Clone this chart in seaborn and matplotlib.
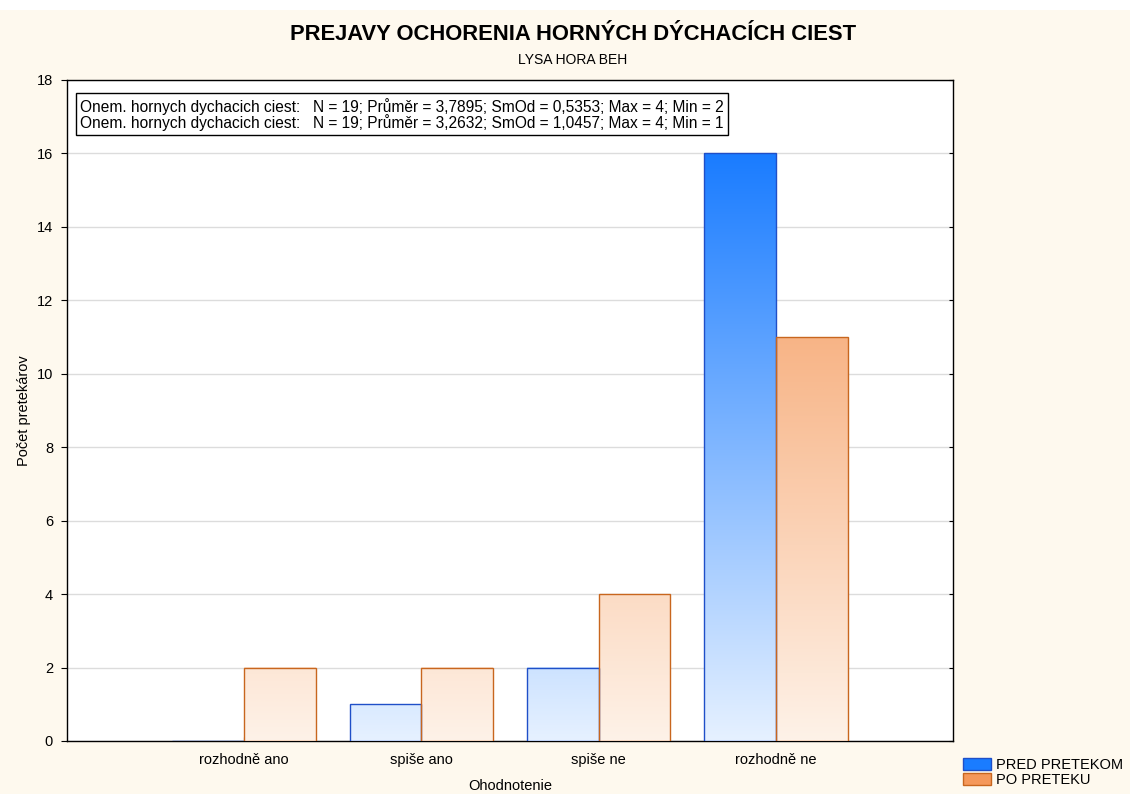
import numpy as np
import pandas as pd
import matplotlib
matplotlib.use("Agg")
import matplotlib.pyplot as plt
import seaborn as sns
from matplotlib.colors import LinearSegmentedColormap
from matplotlib.patches import Patch, Rectangle

# data
categories = ["rozhodně ano", "spiše ano", "spiše ne", "rozhodně ne"]
series_names = ["PRED PRETEKOM", "PO PRETEKU"]
pred_values = [0, 1, 2, 16]
po_values = [2, 2, 4, 11]
stats_lines = [
    "Onem. hornych dychacich ciest:   N = 19; Průměr = 3,7895; SmOd = 0,5353; Max = 4; Min = 2",
    "Onem. hornych dychacich ciest:   N = 19; Průměr = 3,2632; SmOd = 1,0457; Max = 4; Min = 1",
]

df = pd.DataFrame({
    "Ohodnotenie": categories * 2,
    "Počet": pred_values + po_values,
    "Séria": [series_names[0]] * 4 + [series_names[1]] * 4,
})

sns.set_style("white")
plt.rcParams["font.family"] = ["Liberation Sans", "DejaVu Sans"]
plt.rcParams["text.color"] = "black"
plt.rcParams["axes.labelcolor"] = "black"
plt.rcParams["xtick.color"] = "black"
plt.rcParams["ytick.color"] = "black"

bg = "#FEF9EE"
blue_full, blue_light, blue_edge = "#1A7CFF", "#E6F1FF", "#1F4FC8"
orange_full, orange_light, orange_edge = "#F5985A", "#FEF2E8", "#C8661E"

fig = plt.figure(figsize=(11.3, 7.94), dpi=100, facecolor=bg)
# white strip on top
fig.patches.append(Rectangle((0, 0.987), 1, 0.013, transform=fig.transFigure,
                             facecolor="white", edgecolor="none", zorder=0))
ax = fig.add_axes([0.0593, 0.0668, 0.7841, 0.8325])
ax.set_facecolor("white")

sns.barplot(data=df, x="Ohodnotenie", y="Počet", hue="Séria",
            hue_order=series_names, order=categories,
            palette={series_names[0]: blue_full, series_names[1]: orange_full},
            width=0.81, legend=False, ax=ax, zorder=3)

cmaps = [LinearSegmentedColormap.from_list("b", [blue_light, blue_full]),
         LinearSegmentedColormap.from_list("o", [orange_light, orange_full])]
edges = [blue_edge, orange_edge]

patches = list(ax.patches)
for i, p in enumerate(patches):
    s = i // len(categories)
    x0, w, h = p.get_x(), p.get_width(), p.get_height()
    p.set_facecolor("none")
    p.set_edgecolor(edges[s])
    p.set_linewidth(1.0)
    p.set_zorder(4)
    if h > 0:
        grad = np.linspace(0, h, 256).reshape(-1, 1)
        ax.imshow(grad, extent=[x0, x0 + w, 0, h], origin="lower",
                  aspect="auto", cmap=cmaps[s], vmin=0, vmax=16,
                  zorder=3, interpolation="bilinear")

ax.set_xlim(-1, 4)
ax.set_ylim(0, 18)
ax.set_yticks(np.arange(0, 19, 2))
ax.yaxis.grid(True, color="#dcdcdc", linewidth=1.0, zorder=0)
ax.set_axisbelow(True)
for sp in ax.spines.values():
    sp.set_color("black")
    sp.set_linewidth(1.0)
    sp.set_visible(True)

ax.tick_params(axis="y", direction="out", length=4, width=0.8, labelsize=10.5,
               pad=6, left=True, right=False)
ax.tick_params(axis="x", direction="in", length=3, labelsize=10.5, pad=9,
               bottom=True)
ax.set_xlabel("Ohodnotenie", fontsize=10.5, labelpad=8)
ax.set_ylabel("Počet pretekárov", fontsize=10.5, labelpad=4)

# small inward ticks on the right edge
ax_r = ax.twinx()
ax_r.set_ylim(0, 18)
ax_r.set_yticks(np.arange(0, 19, 2))
ax_r.tick_params(axis="y", direction="in", length=3, width=0.8, labelright=False)
ax_r.grid(False)
for sp in ax_r.spines.values():
    sp.set_visible(False)

ax.text(0.0145, 0.973, "\n".join(stats_lines), transform=ax.transAxes,
        ha="left", va="top", fontsize=11.2, linespacing=0.95, zorder=6,
        bbox=dict(boxstyle="square,pad=0.28", facecolor="white",
                  edgecolor="black", linewidth=1.0))

fig.text(0.507, 0.956, "PREJAVY OCHORENIA HORNÝCH DÝCHACÍCH CIEST",
         ha="center", va="center", fontsize=15.8, fontweight="bold")
fig.text(0.507, 0.924, "LYSA HORA BEH", ha="center", va="center", fontsize=10)

handles = [Patch(facecolor=blue_full, edgecolor=blue_edge, label=series_names[0]),
           Patch(facecolor=orange_full, edgecolor=orange_edge, label=series_names[1])]
fig.legend(handles=handles, loc="lower left", bbox_to_anchor=(0.843, -0.004),
           frameon=False, fontsize=10.5, handlelength=1.9, handleheight=0.9,
           handletextpad=0.4, labelspacing=0.05, borderpad=0.2)

fig.savefig("out.png", dpi=100, facecolor=bg)
